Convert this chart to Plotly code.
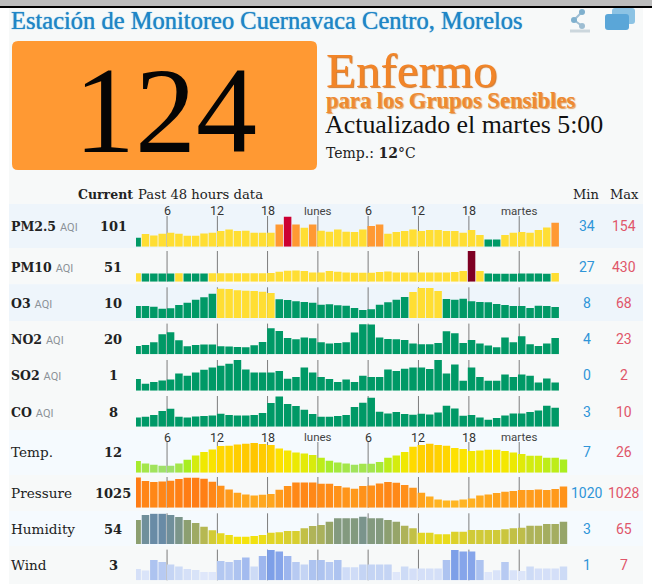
import plotly.graph_objects as go

W, H = 652, 587

# ---- bar levels (0-30 display scale) ----
pm25 = [9,12.7,11.3,13,14,13,11,11,13.3,14,15.7,17.3,15.7,16,14,14,14,22.3,30,22.3,19,22.3,16,15,17.3,15,14.7,17.3,20.7,22.3,13,14.7,15.7,17.3,15.7,16.7,16.7,15.7,15.7,14,16.7,11.7,7.3,7.3,11.7,14,14.7,14,16.7,19.3,24]
pm10 = [8.4,8.3,8.3,8.3,8.3,8.4,8.2,8.2,8.2,8.4,8.4,8.4,8.4,8.4,8.4,8.4,8.8,10,11,11.3,10.7,9.3,9.3,10.7,10,9.3,9,9,9,9.7,10.3,9.3,9.3,9.3,9.3,9.3,9.3,9.3,9.7,10.7,30.7,10.7,8.3,8,8,8,8.3,8.3,8.3,8,8.7]
o3 = [12,12,11.3,9.3,9.7,13,15.3,18.3,20.7,24.3,29.3,29,27.7,27.3,27,26.3,25,18.7,18,16.7,16,15.3,13.3,13.7,12.7,12.3,10,8,8.7,13.3,15.7,18.3,21,26,30,30,27,19,18.3,19.3,16.7,16,15.7,14,13,12,12,10,12.3,12,11]
no2 = [8.3,9.3,12,20,22,14,8,9.3,9.7,9.7,8,7.7,7.3,7,9,12.3,26,23.3,16.3,15,16.7,16,12,10.7,11.3,12,21.7,30,29.7,16.7,15.3,15,14.3,10.7,10,10,11.3,23,21,11.3,14.3,10.7,8.7,7,16.7,12,18,10,8.3,10.7,16.3]
so2 = [11.7,7,8.7,10.3,11.3,17.3,15,18.3,21,23.3,25,27,30.7,21.3,18.3,18.3,18.3,19.7,12,13.7,23.3,18.3,13.7,11.7,8.7,11.3,8.7,15,13.7,13.7,21.3,19.7,22,23.3,23.3,21.7,30.7,17.3,26.3,10,23.3,13.7,10,10,16.3,13.7,16.3,15,8.3,12.3,8.3]
co = [9.3,10,11.7,15.7,18,10,9.3,10.3,10.7,11.3,13,11.7,11.3,11.3,11.7,13.7,23.7,30.3,22.7,20.7,17,12.7,10,10,10.7,11.7,19.7,24,29,15,13.3,14.7,12.7,12,13,12.3,14.3,21,18.3,11,11.7,9.3,7,8.7,11.3,13.3,13.3,14.7,16.3,21,19]
temp = [11.7,9.3,8,7,7,9.3,13,17.3,20.7,23.3,26.7,27,28.3,29,29.7,28.7,27.7,24.3,22.3,20.3,19.3,17.7,15,12,10.3,9.3,8,9,9,10.7,15,17.3,20.7,26,27.7,29,27.7,27,24.7,23.7,21.7,22.3,23,23,21.7,20.3,18.7,17,17,15,15,13.3]
pressure = [30.3,26.7,25.7,26.3,27,28.7,30,30,29,26,22,18.3,15,13.3,12.3,13,13.7,18,21.7,25.3,25.3,25.3,24,24,21.7,20.3,19,21.7,22.3,24.3,25.7,25,22.7,20,15,11.3,8.3,7.3,7.3,8.3,9.3,12.3,13.3,14.7,16,16.7,17.7,17.7,18.3,17.7,18.7,21.3]
humidity = [24,29,30.3,30.3,29,27,24,21,17.3,13.7,10.7,9,7.3,7.3,8,9,11.3,11.7,13,13,15.7,18,19,22.3,25.7,25.7,25.7,27.3,25.7,25.7,24,22.3,18.3,15.7,11.3,11.3,9.7,9.7,12.3,12.3,14,14,14,14,14.7,15.7,16.3,18.3,18.3,20,20,22.3]
wind = [11.3,9.7,20.3,18.3,15.7,13.7,11.3,10.3,8.3,8.3,19.3,18.3,20.3,22.7,13.7,24.3,30.3,28.7,24.3,18.3,15.7,20.3,20.3,18.3,20.3,13,13,15.7,15.7,15.7,15.7,8.3,13.7,11.7,11.7,11.7,11.7,20.3,30.3,28.7,28.7,20.3,8.3,10,18.3,10,9.3,13.7,11.7,11.7,11.7,13.7]

row_labels = ["PM2.5", "PM10", "O3", "NO2", "SO2", "CO", "Temp.", "Pressure", "Humidity", "Wind"]
current = ["101", "51", "10", "20", "1", "8", "12", "1025", "54", "3"]
mins = ["34", "27", "8", "4", "0", "3", "7", "1020", "3", "1"]
maxs = ["154", "430", "68", "23", "2", "10", "26", "1028", "65", "7"]
tick_labels = ["6", "12", "18", "lunes", "6", "12", "18", "martes"]
tick_positions = [3.58, 9.6, 15.6, 21.62, 27.63, 33.65, 39.68, 45.7]
series = [pm25, pm10, o3, no2, so2, co, temp, pressure, humidity, wind]

# ---- layout ----
row_bottom = [246.7, 281.7, 318, 354.3, 390.7, 426.7, 472.7, 507.7, 544, 580.3]
row_height = 30.7
row_center = [226, 267, 303, 339, 375, 412, 452, 493, 529, 565]
stripes = [(204, 248, "#eef5fb"), (284.3, 321, "#eef5fb"), (430, 475, "#f5fafe"), (511, 546, "#f5fafe")]

GREEN, YELLOW, ORANGE, RED, MAROON = "#009966", "#ffde33", "#ff9933", "#cc0033", "#7e0023"

def aqi_colors(vals, cuts):
    out = []
    for v in vals:
        c = GREEN
        for lim, col in cuts:
            if v >= lim:
                c = col
        out.append(c)
    return out

cuts = {
    0: [(10, YELLOW), (19.6, ORANGE), (28, RED)],
    1: [(8.35, YELLOW), (20, MAROON)],
    2: [(25, YELLOW)],
    3: [], 4: [], 5: [],
}
scales = {
    6: (7, 30, [(7, "#9fe06a"), (10, "#a5e840"), (13, "#a8ee20"), (17, "#d2ec10"), (21, "#f2e800"), (25, "#ffe000"), (30, "#ffc400")]),
    7: (7, 31, [(7, "#ffb722"), (31, "#ff7a14")]),
    8: (7, 30.5, [(7, "#f6e40a"), (13, "#d8cf30"), (18, "#b0b458"), (24, "#8c9f70"), (30.5, "#688aa8")]),
    9: (8, 30.5, [(8, "#e0e8fa"), (14, "#ccdaf6"), (20, "#aec4f0"), (25, "#9ab4ee"), (30.5, "#7c9ee8")]),
}

px = lambda x: x / W
py = lambda y: 1 - y / H

fig = go.Figure()
layout_axes = {}
shapes = []
annos = []

def rect(x0, y0, x1, y1, color):
    shapes.append(dict(type="rect", xref="paper", yref="paper", x0=px(x0), x1=px(x1), y0=py(y0), y1=py(y1),
                       fillcolor=color, line_width=0, layer="below"))

def text(x, y, s, size, color="#222", family="DejaVu Serif", anchor="left", shadow=None):
    f = dict(size=size, color=color, family=family)
    if shadow:
        f["shadow"] = shadow
    annos.append(dict(x=px(x), y=py(y), xref="paper", yref="paper", text=s, showarrow=False, xanchor=anchor,
                      yanchor="middle", font=f, borderpad=0, borderwidth=0, bgcolor="rgba(0,0,0,0)"))

def round_box(a, b, c, d, r, color, layer="below"):
    x0, y0, x1, y1 = px(a), py(b), px(c), py(d)
    rx, ry = r / W, r / H
    shapes.append(dict(type="path", xref="paper", yref="paper", layer=layer, fillcolor=color, line_width=0,
        path=f"M {x0+rx} {y0} L {x1-rx} {y0} Q {x1} {y0} {x1} {y0-ry} L {x1} {y1+ry} Q {x1} {y1} {x1-rx} {y1} "
             f"L {x0+rx} {y1} Q {x0} {y1} {x0} {y1+ry} L {x0} {y0-ry} Q {x0} {y0} {x0+rx} {y0} Z"))

SERIF = "Liberation Serif"
SLAB = "DejaVu Serif"
SANS = "Roboto"

# page furniture
rect(9, 8, 643, 584, "#f7f9f9")
rect(0, 0, W, 6, "#bcbcbc")
rect(0, 6, W, 8, "#000000")
for y0, y1, c in stripes:
    rect(9, y0, 643, y1, c)

round_box(12, 41, 317, 170, 6, "#ff9933")

# icons
def circle(cx, cy, rad, color):
    shapes.append(dict(type="circle", xref="paper", yref="paper", x0=px(cx-rad), x1=px(cx+rad), y0=py(cy-rad), y1=py(cy+rad),
                       fillcolor=color, line_width=0, layer="above"))
def seg(xa, ya, xb, yb, color, w):
    shapes.append(dict(type="line", xref="paper", yref="paper", x0=px(xa), x1=px(xb), y0=py(ya), y1=py(yb),
                       line=dict(color=color, width=w), layer="above"))
seg(582, 12, 574, 20, "#9dbdd2", 2)
seg(574, 20, 582, 26, "#9dbdd2", 2)
circle(582, 12, 3, "#7fb0ce")
circle(574, 20, 3, "#7fb0ce")
circle(582, 26, 3, "#9dbdd2")
seg(570, 31, 590, 31, "#ccd7dd", 3)
round_box(612, 8, 635, 24, 3, "#8cc3e4", "above")
round_box(605, 14, 629, 30, 3, "#5aa6d8", "above")

# headline text
text(11, 20, "Estación de Monitoreo Cuernavaca Centro, Morelos", 24.5, "#1f86c7", SERIF, shadow="0 0 1px #1f86c7")
text(326, 71, "Enfermo", 49, "#f28528", SERIF, shadow="1px 1px 1px #d07a30")
text(165, 110, "124", 122, "#050505", SERIF, anchor="center")
text(326, 100, "<b>para los Grupos Sensibles</b>", 22.6, "#ee8a32", SERIF, shadow="1px 1px 1px #e0a060")
text(325, 124.5, "Actualizado el martes 5:00", 25.9, "#111111", SERIF)
text(326, 153, "Temp.: <b>12</b>°C", 14, "#222222", SLAB)

# table header
text(133, 194, "<b>Current</b>", 12.5, "#222", SLAB, anchor="right")
text(137.5, 194, "Past 48 hours data", 13.2, "#222", SLAB)
text(586, 194, "Min", 13, "#222", SLAB, anchor="center")
text(624.5, 194, "Max", 13, "#222", SLAB, anchor="center")

# bars, one y axis per row
for i, vals in enumerate(series):
    name = "y" if i == 0 else f"y{i+1}"
    key = "yaxis" if i == 0 else f"yaxis{i+1}"
    layout_axes[key] = dict(domain=[py(row_bottom[i]), py(row_bottom[i] - row_height)], range=[0, 30.7],
                            visible=False, fixedrange=True, anchor="x")
    if i in scales:
        lo, hi, stops = scales[i]
        marker = dict(color=vals, cmin=lo, cmax=hi, showscale=False,
                      colorscale=[[(v - lo) / (hi - lo), c] for v, c in stops], line_width=0)
    else:
        marker = dict(color=aqi_colors(vals, cuts[i]), line_width=0)
    fig.add_trace(go.Bar(x=list(range(len(vals))), y=vals, yaxis=name, xaxis="x", marker=marker, showlegend=False,
                         hoverinfo="skip"))
    for t in tick_positions:
        shapes.append(dict(type="line", xref="x", yref=f"{name} domain", x0=t, x1=t, y0=0, y1=1,
                           line=dict(color="#7d7d7d", width=1), layer="below"))
    # row text
    if i < 6:
        lbl = f"<b>{row_labels[i]}</b> <span style='font-size:11px;color:#8c9298;font-family:Roboto'>AQI</span>"
        text(11, row_center[i], lbl, 12.5, "#222", SLAB)
    else:
        text(11, row_center[i], row_labels[i], 13.6, "#222", SLAB)
    text(113, row_center[i], f"<b>{current[i]}</b>", 13, "#222", SLAB, anchor="center")
    text(586.5, row_center[i], mins[i], 14, "#2f95d8", SANS, anchor="center")
    text(624, row_center[i], maxs[i], 14, "#e0566a", SANS, anchor="center")

# hour labels over the PM2.5 and Temp rows
for label_y in (211, 437):
    for t, s in zip(tick_positions, tick_labels):
        is_day = not s.isdigit()
        annos.append(dict(x=t, y=py(label_y), xref="x", yref="paper", text=s, showarrow=False, xanchor="center", yanchor="middle",
                          font=dict(size=11.5 if is_day else 12.5, color="#444" if is_day else "#333", family=SANS)))

fig.update_layout(
    width=W, height=H, margin=dict(l=0, r=0, t=0, b=0),
    paper_bgcolor="#ffffff", plot_bgcolor="rgba(0,0,0,0)",
    barmode="overlay", bargap=0.1,
    xaxis=dict(domain=[px(136), px(567.7)], range=[-0.134, 51.5], visible=False, fixedrange=True, anchor="y"),
    shapes=shapes, annotations=annos, showlegend=False,
    **layout_axes,
)
fig.write_html("out.html", config={"displayModeBar": False},
               post_script="document.body.style.margin='0';document.documentElement.style.overflow='hidden';")
